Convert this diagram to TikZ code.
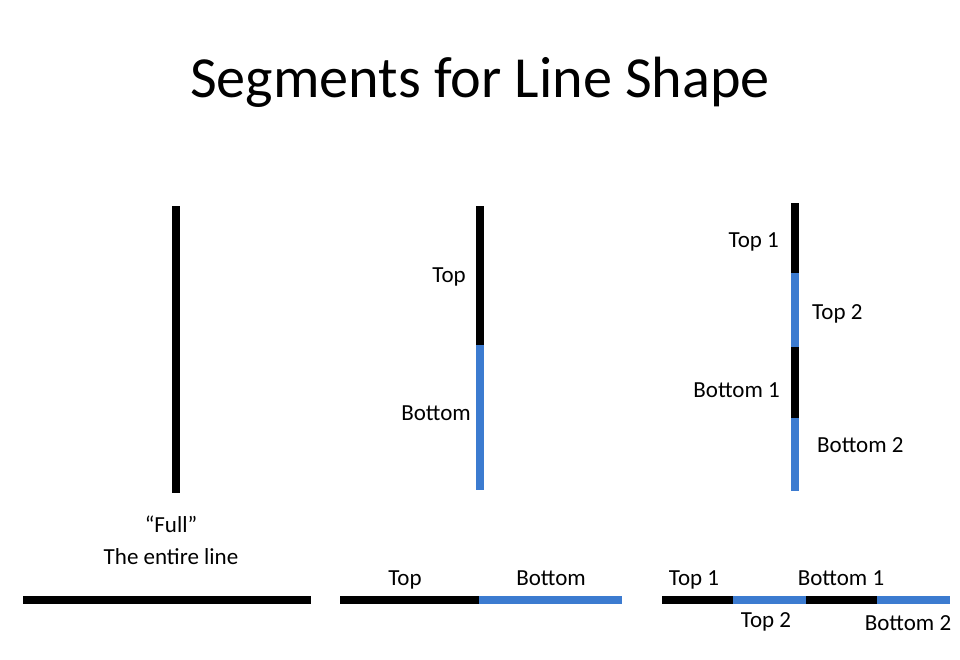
\documentclass[tikz,border=0pt]{standalone}
\usepackage{fontspec}
\setmainfont{Carlito}
\definecolor{segblue}{HTML}{3C7BD0}
\begin{document}
\begin{tikzpicture}[x=1pt,y=-1pt,
  seg/.style={line width=8pt},
  blk/.style={seg,draw=black},
  blu/.style={seg,draw=segblue},
  lbl/.style={inner sep=0pt,font=\fontsize{23}{27}\selectfont},
  ttl/.style={inner sep=0pt,font=\fontsize{58.2}{70}\selectfont}]
\useasboundingbox[fill=white] (0,0) rectangle (960,659);
% title
\node[ttl,anchor=base] (title) at (480,97) {Segments for Line Shape};
% vertical 1
\coordinate (v1a) at (176,206);
\coordinate (v1b) at (176,493);
\draw[blk] (v1a) -- (v1b);
% vertical 2
\coordinate (v2a) at (480,206);
\coordinate (v2m) at (480,345);
\coordinate (v2b) at (480,490);
\draw[blk] (v2a) -- (v2m);
\draw[blu] (v2m) -- (v2b);
% vertical 3
\coordinate (v3a) at (795,203);
\coordinate (v3b) at (795,273);
\coordinate (v3c) at (795,347);
\coordinate (v3d) at (795,418);
\coordinate (v3e) at (795,491);
\draw[blk] (v3a) -- (v3b);
\draw[blu] (v3b) -- (v3c);
\draw[blk] (v3c) -- (v3d);
\draw[blu] (v3d) -- (v3e);
% horizontal 1
\coordinate (h1a) at (23,600);
\coordinate (h1b) at (311,600);
\draw[blk] (h1a) -- (h1b);
% horizontal 2
\coordinate (h2a) at (340,600);
\coordinate (h2m) at (479,600);
\coordinate (h2b) at (622,600);
\draw[blk] (h2a) -- (h2m);
\draw[blu] (h2m) -- (h2b);
% horizontal 3
\coordinate (h3a) at (662,600);
\coordinate (h3b) at (733,600);
\coordinate (h3c) at (806,600);
\coordinate (h3d) at (877,600);
\coordinate (h3e) at (950,600);
\draw[blk] (h3a) -- (h3b);
\draw[blu] (h3b) -- (h3c);
\draw[blk] (h3c) -- (h3d);
\draw[blu] (h3d) -- (h3e);
% labels vertical
\node[lbl,anchor=base east] (lt) at (466,282) {Top};
\node[lbl,anchor=base east] (lb) at (471,420) {Bottom};
\node[lbl,anchor=base east] (lt1) at (779,247) {Top 1};
\node[lbl,anchor=base west] (lt2) at (812,319) {Top 2};
\node[lbl,anchor=base east] (lb1) at (780,397) {Bottom 1};
\node[lbl,anchor=base west] (lb2) at (817,452) {Bottom 2};
% labels full
\node[lbl,anchor=base] (full) at (171,532) {“Full”};
\node[lbl,anchor=base] (entire) at (171,564) {The entire line};
% labels horizontal
\node[lbl,anchor=base] (ht) at (405,585) {Top};
\node[lbl,anchor=base] (hb) at (551,585) {Bottom};
\node[lbl,anchor=base] (ht1) at (694,585) {Top 1};
\node[lbl,anchor=base] (hb1) at (841,585) {Bottom 1};
\node[lbl,anchor=base] (ht2) at (766,627) {Top 2};
\node[lbl,anchor=base] (hb2) at (908,630) {Bottom 2};
\end{tikzpicture}
\end{document}
